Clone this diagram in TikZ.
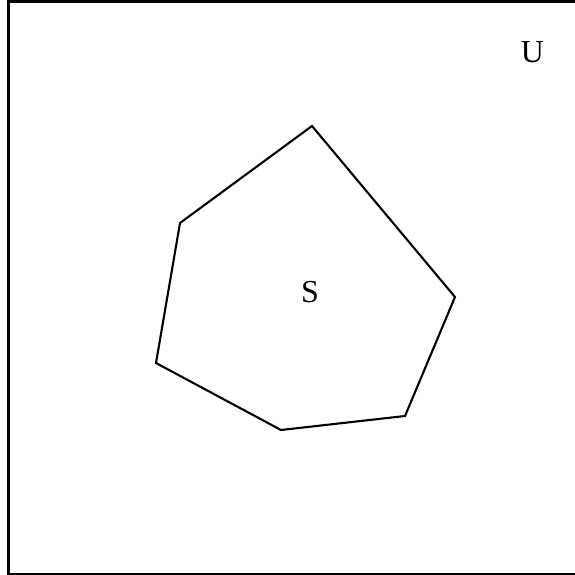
\documentclass[tikz,border=0pt]{standalone}
\usepackage{fontspec}
\setmainfont{Liberation Serif}
\begin{document}
\begin{tikzpicture}[x=1pt,y=-1pt,
  frame/.style={line width=2.4pt},
  poly/.style={line width=2.1pt, line join=miter},
  lbl/.style={font=\fontsize{32}{32}\selectfont, inner sep=0pt}]
\useasboundingbox (0,0) rectangle (574,575);
\draw[frame] (8.5,1.5) rectangle (590,574);
\draw[poly] (312,126) -- (455,297) -- (405,416) -- (281,430) -- (156,363) -- (180,223) -- cycle;
\node[lbl] (U) at (532.5,52.5) {U};
\node[lbl] (S) at (310,292.5) {S};
\end{tikzpicture}
\end{document}
